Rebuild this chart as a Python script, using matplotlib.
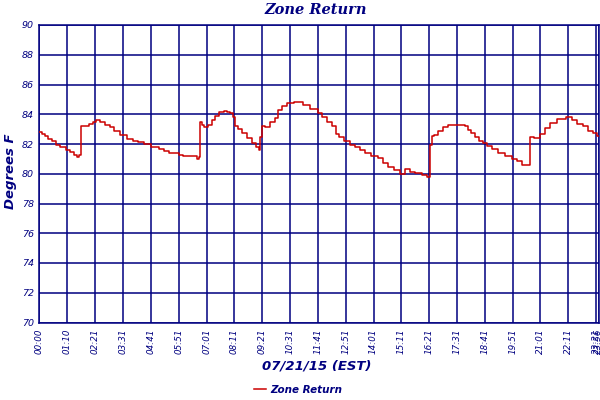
import matplotlib
matplotlib.use("Agg")
import matplotlib.pyplot as plt

# Time in minutes after midnight, temperature in degrees F
minutes = [0, 12, 17, 26, 36, 47, 59, 73, 84, 92, 99, 103, 106, 117, 132, 139, 147,
           159, 172, 183, 194, 212, 230, 242, 255, 272, 292, 308, 318, 334, 347, 355,
           368, 380, 393, 399, 403, 406, 411, 419, 430, 438, 447, 459, 468, 476, 484,
           489, 494, 506, 516, 527, 541, 551, 554, 558, 561, 573, 588, 597, 605, 616,
           630, 651, 674, 686, 694, 706, 718, 731, 742, 750, 760, 775, 789, 802, 814,
           827, 843, 860, 871, 883, 900, 914, 927, 939, 954, 971, 981, 985, 989, 997,
           1010, 1022, 1033, 1053, 1069, 1073, 1082, 1090, 1101, 1111, 1121, 1133, 1146,
           1161, 1182, 1196, 1207, 1223, 1233, 1237, 1251, 1267, 1279, 1292, 1314, 1334,
           1346, 1361, 1376, 1387, 1400, 1407]
temps = [82.78, 82.69, 82.51, 82.36, 82.18, 81.96, 81.80, 81.58, 81.47, 81.29, 81.15,
         81.25, 83.18, 83.24, 83.33, 83.47, 83.62, 83.49, 83.29, 83.13, 82.89, 82.62,
         82.36, 82.18, 82.13, 82.00, 81.80, 81.67, 81.51, 81.38, 81.38, 81.29, 81.18,
         81.22, 81.16, 81.00, 81.10, 83.47, 83.29, 83.16, 83.29, 83.62, 83.91, 84.13,
         84.20, 84.13, 84.10, 83.84, 83.20, 83.00, 82.73, 82.40, 82.07, 81.80, 81.58,
         82.50, 83.18, 83.16, 83.47, 83.78, 84.29, 84.56, 84.73, 84.80, 84.62, 84.36,
         84.36, 84.07, 83.84, 83.51, 83.24, 82.67, 82.47, 82.18, 81.96, 81.78, 81.62,
         81.40, 81.22, 81.07, 80.73, 80.44, 80.22, 80.00, 80.31, 80.13, 80.02, 79.89,
         79.80, 81.96, 82.51, 82.62, 82.89, 83.13, 83.29, 83.29, 83.25, 83.18, 82.96,
         82.73, 82.44, 82.18, 82.07, 81.84, 81.69, 81.40, 81.18, 81.02, 80.84, 80.56,
         80.56, 82.44, 82.40, 82.67, 83.07, 83.40, 83.69, 83.80, 83.62, 83.33, 83.18,
         82.89, 82.73, 82.51]

tick_minutes = [0, 70, 141, 211, 281, 351, 421, 491, 561, 631, 701, 771, 841, 911,
                981, 1051, 1121, 1191, 1261, 1331, 1401, 1407]
tick_labels = ["00:00", "01:10", "02:21", "03:31", "04:41", "05:51", "07:01", "08:11",
               "09:21", "10:31", "11:41", "12:51", "14:01", "15:11", "16:21", "17:31",
               "18:41", "19:51", "21:01", "22:11", "23:21", "23:56"]
y_ticks = [70, 72, 74, 76, 78, 80, 82, 84, 86, 88, 90]

navy = "#000080"
red = "#CC0000"

fig = plt.figure(figsize=(6, 4), dpi=100)
ax = fig.add_axes([39.3 / 600, 1 - 322.5 / 400, (598.5 - 39.3) / 600, (322.5 - 25) / 400])

ax.plot(minutes, temps, color=red, linewidth=1.1, label="Zone Return", zorder=3,
        drawstyle="steps-mid")

ax.set_xlim(0, 1407)
ax.set_ylim(70, 90)
ax.set_xticks(tick_minutes)
ax.set_xticklabels(tick_labels, rotation=90, fontsize=6.3, fontstyle="italic", color=navy)
ax.set_yticks(y_ticks)
ax.set_yticklabels([str(v) for v in y_ticks], fontsize=6.8, fontstyle="italic", color=navy)
ax.tick_params(axis="both", length=0, pad=4)
ax.grid(True, color=navy, linewidth=1.1)
for s in ax.spines.values():
    s.set_color(navy)
    s.set_linewidth(1.1)

fig.text(0.527, 0.975, "Zone Return", ha="center", va="center", color=navy,
         fontsize=10.5, fontweight="bold", fontstyle="italic", family="DejaVu Serif")
fig.text(0.018, 0.572, "Degrees F", ha="center", va="center", rotation=90, color=navy,
         fontsize=9.5, fontweight="bold", fontstyle="italic", family="DejaVu Sans")
fig.text(0.527, 0.085, "07/21/15 (EST)", ha="center", va="center", color=navy,
         fontsize=9.5, fontweight="bold", fontstyle="italic", family="DejaVu Sans")

leg = fig.legend(loc="center", bbox_to_anchor=(0.497, 0.025), frameon=False,
                 handlelength=1.2, handletextpad=0.4,
                 prop={"size": 7.5, "weight": "bold", "style": "italic"})
for t in leg.get_texts():
    t.set_color(navy)

fig.savefig("out.png", dpi=100)
